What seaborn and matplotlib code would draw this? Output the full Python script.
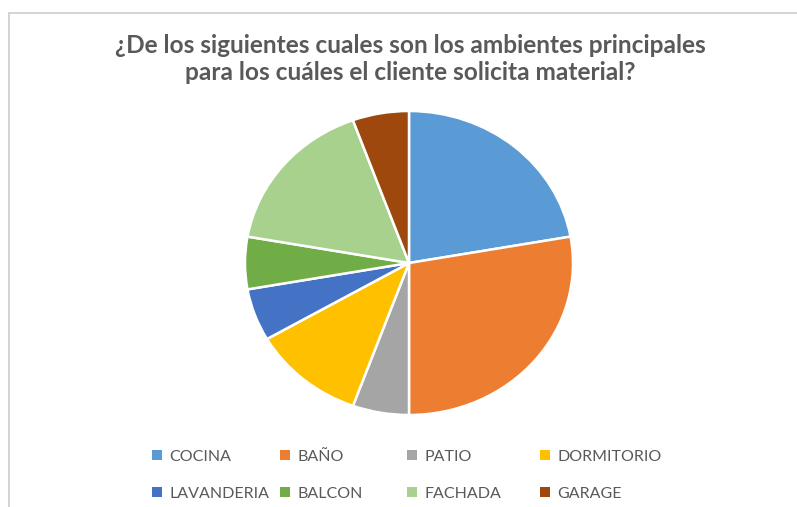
import matplotlib
matplotlib.use("Agg")
import matplotlib.pyplot as plt
import matplotlib.patches as mpatches
import seaborn as sns

categories = ["COCINA", "BAÑO", "PATIO", "DORMITORIO", "LAVANDERIA", "BALCON", "FACHADA", "GARAGE"]
values = [8, 10, 2, 4, 2, 2, 6, 2]
colors = ["#5B9BD5", "#ED7D31", "#A5A5A5", "#FFC000", "#4472C4", "#70AD47", "#A9D18E", "#9E480E"]
title = "¿De los siguientes cuales son los ambientes principales\npara los cuáles el cliente solicita material?"

sns.set_theme(style="white")
plt.rcParams['font.family'] = ['Lato', 'DejaVu Sans']

W, H = 797, 507
fig = plt.figure(figsize=(W / 100, H / 100), dpi=100)
fig.patch.set_facecolor("white")

cx, cy, rx, ry = 409, 263, 164, 152
ax = fig.add_axes([(cx - rx) / W, (H - cy - ry) / H, 2 * rx / W, 2 * ry / H])
ax.pie(values, colors=colors, startangle=90, counterclock=False,
       wedgeprops=dict(edgecolor="white", linewidth=1.8))
ax.set_xlim(-1, 1)
ax.set_ylim(-1, 1)
ax.set_aspect("auto")
ax.axis("off")

fig.text(410 / W, 1 - 59 / H, title, ha="center", va="center",
         fontsize=17.6, fontweight="bold", color="#595959", linespacing=1.2)

# border (left/top visible)
fig.add_artist(mpatches.Rectangle((8.5 / W, -0.1), 2.0, 1 - 12.5 / H + 0.1,
                                  transform=fig.transFigure, fill=False,
                                  edgecolor="#D0D0D0", linewidth=1.3))

# legend: 4 columns x 2 rows
col_x = [152, 280, 407, 540]
for c in range(4):
    idx = [c, c + 4]
    handles = [mpatches.Patch(facecolor=colors[i], edgecolor="none") for i in idx]
    labels = [categories[i] for i in idx]
    leg = fig.legend(handles, labels, loc="upper left",
                     bbox_to_anchor=(col_x[c] / W, 1 - 450 / H),
                     frameon=False, fontsize=11.5, handlelength=0.6, handleheight=0.6,
                     handletextpad=0.5, labelspacing=1.42, borderpad=0, borderaxespad=0)
    for t in leg.get_texts():
        t.set_color("#595959")

fig.savefig("out.png", dpi=100, facecolor="white")
